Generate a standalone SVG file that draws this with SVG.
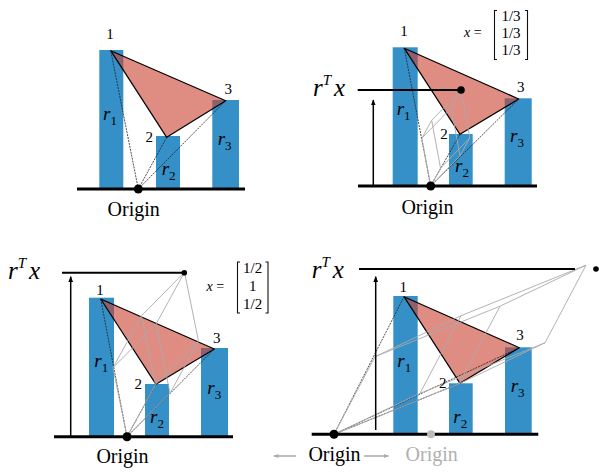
<svg xmlns="http://www.w3.org/2000/svg" width="599" height="473" viewBox="0 0 599 473">
<defs>
<marker id="ah" viewBox="0 0 10 10" refX="9" refY="5" markerWidth="6" markerHeight="6" orient="auto" markerUnits="userSpaceOnUse"><path d="M0,1 L10,5 L0,9 Z" fill="#000"/></marker>
<marker id="ahg" viewBox="0 0 10 10" refX="9" refY="5" markerWidth="6" markerHeight="5" orient="auto" markerUnits="userSpaceOnUse"><path d="M0,1 L10,5 L0,9 Z" fill="#aaa"/></marker>
</defs>
<g id="panel1">
<g id="p1-bars" fill="#3590c8">
<rect x="99.3" y="50" width="24" height="138"/>
<rect x="156" y="136" width="24" height="52"/>
<rect x="212.3" y="100" width="26.7" height="88"/>
</g>
<g id="p1-connectors" stroke="#222" stroke-width="0.8" stroke-dasharray="2 1" fill="none">
<line x1="138.3" y1="189" x2="110.7" y2="50.7"/>
<line x1="138.3" y1="189" x2="166.7" y2="137.3"/>
<line x1="138.3" y1="189" x2="225.7" y2="100.7"/>
</g>
<g id="p1-triangle"><polygon fill="#c9402e" fill-opacity="0.6" stroke="#000" stroke-width="1.2" stroke-linejoin="round" points="110.7,50.7 166.7,137.3 225.7,100.7"/></g>
<line stroke="#000" stroke-width="3" x1="77" y1="189" x2="245" y2="189"/>
<circle cx="138.3" cy="189" r="4.5" fill="#000"/>
<text style="font-family:Liberation Serif, serif" font-family="Liberation Serif" font-size="15" text-anchor="middle" x="110" y="39">1</text>
<text style="font-family:Liberation Serif, serif" font-family="Liberation Serif" font-size="15" text-anchor="middle" x="149.3" y="141.7">2</text>
<text style="font-family:Liberation Serif, serif" font-family="Liberation Serif" font-size="15" text-anchor="middle" x="228.3" y="94">3</text>
<text style="font-family:Liberation Serif, serif" font-family="Liberation Serif" font-size="19" font-style="italic" x="103" y="120">r<tspan font-size="13" font-style="normal" dy="5">1</tspan></text>
<text style="font-family:Liberation Serif, serif" font-family="Liberation Serif" font-size="19" font-style="italic" x="161.7" y="175">r<tspan font-size="13" font-style="normal" dy="5">2</tspan></text>
<text style="font-family:Liberation Serif, serif" font-family="Liberation Serif" font-size="19" font-style="italic" x="217.7" y="145">r<tspan font-size="13" font-style="normal" dy="5">3</tspan></text>
<text style="font-family:Liberation Serif, serif" font-family="Liberation Serif" font-size="20" text-anchor="middle" x="133.7" y="215.5">Origin</text>
</g>
<g id="panel2">
<g id="p2-bars" fill="#3590c8">
<rect x="392.7" y="47.3" width="25" height="138"/>
<rect x="449" y="134" width="23.7" height="51.3"/>
<rect x="504.7" y="98.3" width="27" height="87"/>
</g>
<g id="p2-triangle"><polygon fill="#c9402e" fill-opacity="0.6" stroke="#000" stroke-width="1.2" stroke-linejoin="round" points="404.3,48.3 460,134.3 518.7,99"/></g>
<g id="p2-connectors">
<g stroke="#222" stroke-width="0.8" stroke-dasharray="2 1" fill="none">
<line x1="430.7" y1="186" x2="404.3" y2="48.3"/>
<line x1="430.7" y1="186" x2="460" y2="134.3"/>
<line x1="430.7" y1="186" x2="518.7" y2="99"/>
</g>
<path stroke="#aaa" stroke-width="0.9" fill="none" d="M430.7,186 L421.9,138.2 M430.7,186 L440.5,168.1 M430.7,186 L460,155.8 M421.9,138.2 L431.7,120.3 M421.9,138.2 L451.2,108 M440.5,168.1 L431.7,120.3 M440.5,168.1 L469.8,137.9 M460,155.8 L451.2,108 M460,155.8 L469.8,137.9 M431.7,120.3 L461,90.1 M451.2,108 L461,90.1 M469.8,137.9 L461,90.1"/>
<line stroke="#000" stroke-width="2" x1="357.7" y1="90" x2="458" y2="90"/>
<line stroke="#000" stroke-width="1.5" marker-end="url(#ah)" x1="373.3" y1="185" x2="373.3" y2="100"/>
</g>
<line stroke="#000" stroke-width="3" x1="358" y1="186" x2="537" y2="186"/>
<circle cx="430.7" cy="186" r="4.5" fill="#000"/>
<circle cx="461" cy="90" r="3.8" fill="#000"/>
<text style="font-family:Liberation Serif, serif" font-family="Liberation Serif" font-size="15" text-anchor="middle" x="404" y="36">1</text>
<text style="font-family:Liberation Serif, serif" font-family="Liberation Serif" font-size="15" text-anchor="middle" x="444" y="139.3">2</text>
<text style="font-family:Liberation Serif, serif" font-family="Liberation Serif" font-size="15" text-anchor="middle" x="520.7" y="91.7">3</text>
<text style="font-family:Liberation Serif, serif" font-family="Liberation Serif" font-size="19" font-style="italic" x="396.7" y="115">r<tspan font-size="13" font-style="normal" dy="5">1</tspan></text>
<text style="font-family:Liberation Serif, serif" font-family="Liberation Serif" font-size="19" font-style="italic" x="455" y="171.7">r<tspan font-size="13" font-style="normal" dy="5">2</tspan></text>
<text style="font-family:Liberation Serif, serif" font-family="Liberation Serif" font-size="19" font-style="italic" x="510" y="141.7">r<tspan font-size="13" font-style="normal" dy="5">3</tspan></text>
<text style="font-family:Liberation Serif, serif" font-family="Liberation Serif" font-size="25" font-style="italic" x="313" y="96">r<tspan font-size="15" dy="-11">T</tspan><tspan dx="3" dy="11">x</tspan></text>
<text style="font-family:Liberation Serif, serif" font-family="Liberation Serif" font-size="14" x="464" y="37"><tspan font-style="italic">x</tspan> =</text>
<path stroke="#111" stroke-width="1.1" fill="none" d="M497,10.5 L494.5,10.5 L494.5,59.5 L497,59.5 M525,10.5 L527.5,10.5 L527.5,59.5 L525,59.5"/>
<text style="font-family:Liberation Serif, serif" font-family="Liberation Serif" font-size="15" text-anchor="middle" x="511" y="21">1/3</text>
<text style="font-family:Liberation Serif, serif" font-family="Liberation Serif" font-size="15" text-anchor="middle" x="511" y="38">1/3</text>
<text style="font-family:Liberation Serif, serif" font-family="Liberation Serif" font-size="15" text-anchor="middle" x="511" y="55">1/3</text>
<text style="font-family:Liberation Serif, serif" font-family="Liberation Serif" font-size="20" text-anchor="middle" x="427.5" y="213.5">Origin</text>
</g>
<g id="panel3">
<g id="p3-bars" fill="#3590c8">
<rect x="89" y="297.7" width="25" height="139"/>
<rect x="145" y="384" width="24" height="52.7"/>
<rect x="201" y="348" width="27" height="88.7"/>
</g>
<g id="p3-triangle"><polygon fill="#c9402e" fill-opacity="0.6" stroke="#000" stroke-width="1.2" stroke-linejoin="round" points="100.7,299 156,384.3 214.3,349"/></g>
<g id="p3-connectors">
<g stroke="#222" stroke-width="0.8" stroke-dasharray="2 1" fill="none">
<line x1="127" y1="436.7" x2="100.7" y2="299"/>
<line x1="127" y1="436.7" x2="156" y2="384.3"/>
<line x1="127" y1="436.7" x2="214.3" y2="349"/>
</g>
<path stroke="#aaa" stroke-width="0.9" fill="none" d="M127,436.7 L113,367.7 M127,436.7 L155.5,384.7 M127,436.7 L170,393.2 M113,367.7 L141.5,315.7 M113,367.7 L156,324.2 M155.5,384.7 L141.5,315.7 M155.5,384.7 L198.5,341.2 M170,393.2 L156,324.2 M170,393.2 L198.5,341.2 M141.5,315.7 L184.5,272.2 M156,324.2 L184.5,272.2 M198.5,341.2 L184.5,272.2"/>
<line stroke="#000" stroke-width="2" x1="62" y1="272.7" x2="182" y2="272.7"/>
<line stroke="#000" stroke-width="1.5" marker-end="url(#ah)" x1="70.7" y1="436" x2="70.7" y2="276.7"/>
</g>
<line stroke="#000" stroke-width="3" x1="54" y1="436.7" x2="233" y2="436.7"/>
<circle cx="127" cy="436.7" r="4.5" fill="#000"/>
<circle cx="184.3" cy="272.7" r="2.8" fill="#000"/>
<text style="font-family:Liberation Serif, serif" font-family="Liberation Serif" font-size="15" text-anchor="middle" x="100" y="295">1</text>
<text style="font-family:Liberation Serif, serif" font-family="Liberation Serif" font-size="15" text-anchor="middle" x="138.3" y="389.3">2</text>
<text style="font-family:Liberation Serif, serif" font-family="Liberation Serif" font-size="15" text-anchor="middle" x="216.7" y="342.7">3</text>
<text style="font-family:Liberation Serif, serif" font-family="Liberation Serif" font-size="19" font-style="italic" x="94.3" y="367">r<tspan font-size="13" font-style="normal" dy="5">1</tspan></text>
<text style="font-family:Liberation Serif, serif" font-family="Liberation Serif" font-size="19" font-style="italic" x="150" y="422.7">r<tspan font-size="13" font-style="normal" dy="5">2</tspan></text>
<text style="font-family:Liberation Serif, serif" font-family="Liberation Serif" font-size="19" font-style="italic" x="207.3" y="394">r<tspan font-size="13" font-style="normal" dy="5">3</tspan></text>
<text style="font-family:Liberation Serif, serif" font-family="Liberation Serif" font-size="25" font-style="italic" x="8" y="279.3">r<tspan font-size="15" dy="-11">T</tspan><tspan dx="3" dy="11">x</tspan></text>
<text style="font-family:Liberation Serif, serif" font-family="Liberation Serif" font-size="14" x="206.5" y="291"><tspan font-style="italic">x</tspan> =</text>
<path stroke="#111" stroke-width="1.1" fill="none" d="M240,262 L237.5,262 L237.5,313 L240,313 M265.5,262 L268,262 L268,313 L265.5,313"/>
<text style="font-family:Liberation Serif, serif" font-family="Liberation Serif" font-size="15" text-anchor="middle" x="252.7" y="273">1/2</text>
<text style="font-family:Liberation Serif, serif" font-family="Liberation Serif" font-size="15" text-anchor="middle" x="252.7" y="291">1</text>
<text style="font-family:Liberation Serif, serif" font-family="Liberation Serif" font-size="15" text-anchor="middle" x="252.7" y="309">1/2</text>
<text style="font-family:Liberation Serif, serif" font-family="Liberation Serif" font-size="20" text-anchor="middle" x="122.5" y="463.3">Origin</text>
</g>
<g id="panel4">
<g id="p4-bars" fill="#3590c8">
<rect x="393.3" y="296" width="24.4" height="138.3"/>
<rect x="449" y="383.3" width="23.7" height="51"/>
<rect x="505" y="347.3" width="26.7" height="87"/>
</g>
<g id="p4-triangle"><polygon fill="#c9402e" fill-opacity="0.6" stroke="#000" stroke-width="1.2" stroke-linejoin="round" points="404,296.7 460,383.3 519.3,347.7"/></g>
<g id="p4-connectors">
<g stroke="#222" stroke-width="0.8" stroke-dasharray="2 1" fill="none">
<line x1="334" y1="434.3" x2="404" y2="296.7"/>
<line x1="334" y1="434.3" x2="460" y2="383.3"/>
<line x1="334" y1="434.3" x2="519.3" y2="347.7"/>
</g>
<path stroke="#aaa" stroke-width="0.9" fill="none" d="M334,434.3 L375,356.7 M334,434.3 L459,383.8 M334,434.3 L420,393.3 M375,356.7 L500,306.2 M375,356.7 L461,315.7 M459,383.8 L500,306.2 M459,383.8 L545,342.8 M420,393.3 L461,315.7 M420,393.3 L545,342.8 M500,306.2 L586,265.2 M461,315.7 L586,265.2 M545,342.8 L586,265.2"/>
<line stroke="#000" stroke-width="2" x1="359" y1="269" x2="575" y2="269"/>
<line stroke="#000" stroke-width="1.5" marker-end="url(#ah)" x1="375.7" y1="430" x2="375.7" y2="276.7"/>
<line stroke="#aaa" stroke-width="1.5" marker-end="url(#ahg)" x1="296" y1="456" x2="274" y2="456"/>
<line stroke="#aaa" stroke-width="1.5" marker-end="url(#ahg)" x1="364" y1="456" x2="388.5" y2="456"/>
</g>
<line stroke="#000" stroke-width="3" x1="311.7" y1="434.3" x2="538.3" y2="434.3"/>
<circle cx="431" cy="434.3" r="4" fill="#bbb"/>
<circle cx="334" cy="434.3" r="4.5" fill="#000"/>
<circle cx="596" cy="269" r="2.8" fill="#000"/>
<text style="font-family:Liberation Serif, serif" font-family="Liberation Serif" font-size="15" text-anchor="middle" x="403.3" y="292.3">1</text>
<text style="font-family:Liberation Serif, serif" font-family="Liberation Serif" font-size="15" text-anchor="middle" x="442.7" y="387.7">2</text>
<text style="font-family:Liberation Serif, serif" font-family="Liberation Serif" font-size="15" text-anchor="middle" x="520" y="340">3</text>
<text style="font-family:Liberation Serif, serif" font-family="Liberation Serif" font-size="19" font-style="italic" x="397.3" y="366.7">r<tspan font-size="13" font-style="normal" dy="5">1</tspan></text>
<text style="font-family:Liberation Serif, serif" font-family="Liberation Serif" font-size="19" font-style="italic" x="453.3" y="423.3">r<tspan font-size="13" font-style="normal" dy="5">2</tspan></text>
<text style="font-family:Liberation Serif, serif" font-family="Liberation Serif" font-size="19" font-style="italic" x="510.7" y="391.7">r<tspan font-size="13" font-style="normal" dy="5">3</tspan></text>
<text style="font-family:Liberation Serif, serif" font-family="Liberation Serif" font-size="25" font-style="italic" x="311.7" y="278">r<tspan font-size="15" dy="-11">T</tspan><tspan dx="3" dy="11">x</tspan></text>
<text style="font-family:Liberation Serif, serif" font-family="Liberation Serif" font-size="20" text-anchor="middle" x="334.5" y="460.5">Origin</text>
<text style="font-family:Liberation Serif, serif" font-family="Liberation Serif" font-size="20" text-anchor="middle" fill="#b0b0b0" x="431.7" y="460.5">Origin</text>
</g>
</svg>
